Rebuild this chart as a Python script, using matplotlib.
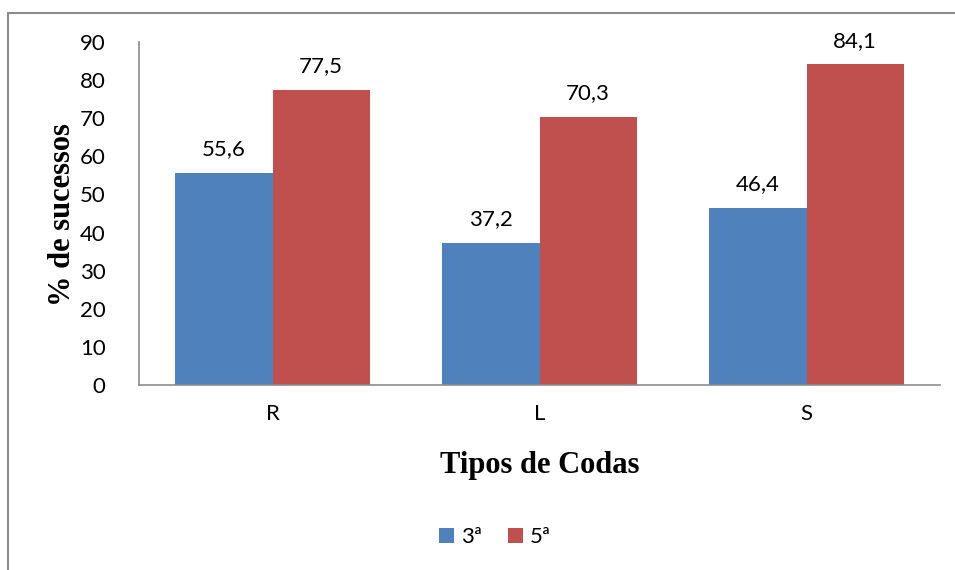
import matplotlib
matplotlib.use("Agg")
import matplotlib.pyplot as plt
from matplotlib.patches import Rectangle
import numpy as np

categories = ["R", "L", "S"]
series_names = ["3ª", "5ª"]
values_3 = [55.6, 37.2, 46.4]
values_5 = [77.5, 70.3, 84.1]
colors = ["#4F81BD", "#C0504D"]

fig = plt.figure(figsize=(9.55, 5.7), dpi=100)
fig.patch.set_facecolor("white")
fig.patches.append(Rectangle((8/955, -0.05), 1.0, 1.05 - 13/570, transform=fig.transFigure,
                             fill=False, edgecolor="#8c8c8c", linewidth=1.5, zorder=0))

ax = fig.add_axes([139/955, 1 - 385/570, (940 - 139)/955, (385 - 42)/570])
x = np.arange(len(categories))
w = 0.364
b1 = ax.bar(x - w/2, values_3, w, color=colors[0], label=series_names[0])
b2 = ax.bar(x + w/2, values_5, w, color=colors[1], label=series_names[1])

tick_font = "Lato"
fs = 16
for bars, vals in ((b1, values_3), (b2, values_5)):
    for r, v in zip(bars, vals):
        ax.text(r.get_x() + r.get_width()/2, v + 3.6, f"{v:.1f}".replace(".", ","),
                ha="center", va="bottom", fontsize=fs, family=tick_font)

ax.set_xlim(-0.5, 2.5)
ax.set_ylim(0, 90)
ax.set_yticks(range(0, 91, 10))
ax.set_xticks(x)
ax.set_xticklabels(categories)
for lab in ax.get_xticklabels() + ax.get_yticklabels():
    lab.set_family(tick_font)
    lab.set_fontsize(fs)
ax.tick_params(axis="both", length=0)
ax.tick_params(axis="y", pad=24)
ax.tick_params(axis="x", pad=14)
for s in ["top", "right"]:
    ax.spines[s].set_visible(False)
for s in ["left", "bottom"]:
    ax.spines[s].set_color("#8c8c8c")
    ax.spines[s].set_linewidth(1.2)

fig.text(62/955, 1 - 215/570, "% de sucessos", rotation=90, ha="center", va="center",
         family="Liberation Serif", fontweight="bold", fontsize=22)
fig.text(540/955, 1 - 465/570, "Tipos de Codas", ha="center", va="center",
         family="Liberation Serif", fontweight="bold", fontsize=22)

leg = fig.legend(handles=[b1, b2], labels=series_names, loc="center",
                 bbox_to_anchor=(495/955, 1 - 537/570), ncol=2, frameon=False,
                 prop={"family": tick_font, "size": fs}, handlelength=0.65, handleheight=0.65,
                 handletextpad=0.3, columnspacing=1.2)

fig.savefig("out.png", dpi=100)
